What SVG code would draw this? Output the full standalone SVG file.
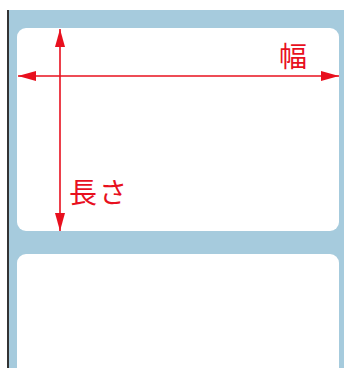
<svg xmlns="http://www.w3.org/2000/svg" width="344" height="368" viewBox="0 0 344 368">
<style>
.lbl{fill:#ffffff}
.dim{stroke:#e8101e;stroke-width:1.6;fill:none}
.txt{fill:#e8101e;font-family:"Noto Sans CJK JP","Noto Sans CJK SC",sans-serif;font-size:28px}
</style>
<defs>
<marker id="ah" viewBox="0 0 18 10" refX="18" refY="5" markerWidth="18" markerHeight="10" markerUnits="userSpaceOnUse" orient="auto-start-reverse">
<path d="M0,0 L18,5 L0,10 Z" fill="#e8101e"/>
</marker>
</defs>
<rect x="0" y="0" width="344" height="368" fill="#ffffff"/>
<g id="sheet">
<rect x="8" y="10" width="336" height="358" fill="#a6cbdd"/>
<rect x="7" y="10" width="2" height="358" fill="#333333"/>
</g>
<g id="label1"><rect class="lbl" x="17" y="28" width="322" height="203" rx="9"/></g>
<g id="label2"><rect class="lbl" x="17" y="254" width="322" height="130" rx="9"/></g>
<g id="connectors">
<line class="dim" x1="60" y1="29" x2="60" y2="231" marker-start="url(#ah)" marker-end="url(#ah)"/>
<line class="dim" x1="18" y1="76" x2="339" y2="76" marker-start="url(#ah)" marker-end="url(#ah)"/>
</g>
<g id="labels">
<text class="txt" x="279" y="67">幅</text>
<text class="txt" x="69" y="203" letter-spacing="2">長さ</text>
</g>
</svg>
